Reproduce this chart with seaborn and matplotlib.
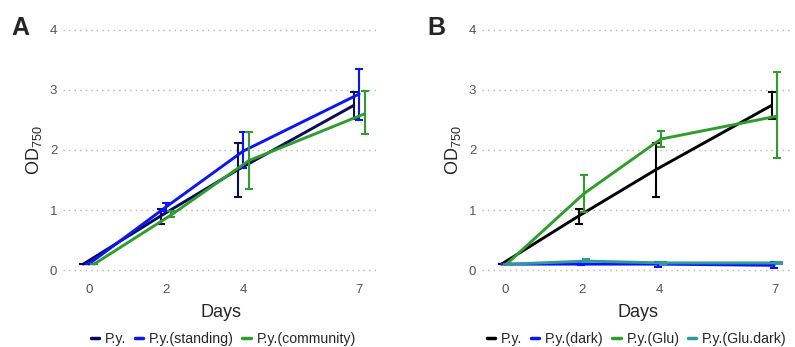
import pandas as pd
import matplotlib.pyplot as plt
import seaborn as sns
import numpy as np
from matplotlib.lines import Line2D

# Datos
days = [0, 2, 4, 7]

# Panel A
a_groups = ['P.y.', 'P.y.(standing)', 'P.y.(community)']
a_colors = ['#0b0b5e', '#0a14ff', '#2e9e2a']
a_mean = {
    'P.y.': [0.10, 0.90, 1.67, 2.74],
    'P.y.(standing)': [0.10, 1.05, 1.98, 2.93],
    'P.y.(community)': [0.10, 0.92, 1.82, 2.60],
}
a_low = {
    'P.y.': [0.10, 0.77, 1.22, 2.51],
    'P.y.(standing)': [0.10, 0.99, 1.70, 2.50],
    'P.y.(community)': [0.10, 0.88, 1.35, 2.27],
}
a_high = {
    'P.y.': [0.10, 1.02, 2.11, 2.97],
    'P.y.(standing)': [0.10, 1.12, 2.29, 3.35],
    'P.y.(community)': [0.10, 0.98, 2.29, 2.98],
}

# Panel B
b_groups = ['P.y.', 'P.y.(dark)', 'P.y.(Glu)', 'P.y.(Glu.dark)']
b_colors = ['#000000', '#0a14ff', '#2e9e2a', '#2e9a9a']
b_mean = {
    'P.y.': [0.10, 0.90, 1.67, 2.74],
    'P.y.(dark)': [0.10, 0.10, 0.10, 0.08],
    'P.y.(Glu)': [0.10, 1.27, 2.18, 2.56],
    'P.y.(Glu.dark)': [0.10, 0.15, 0.12, 0.12],
}
b_low = {
    'P.y.': [0.10, 0.77, 1.22, 2.51],
    'P.y.(dark)': [0.10, 0.08, 0.05, 0.03],
    'P.y.(Glu)': [0.10, 0.97, 2.05, 1.87],
    'P.y.(Glu.dark)': [0.10, 0.13, 0.10, 0.10],
}
b_high = {
    'P.y.': [0.10, 1.01, 2.11, 2.97],
    'P.y.(dark)': [0.10, 0.12, 0.14, 0.13],
    'P.y.(Glu)': [0.10, 1.59, 2.32, 3.29],
    'P.y.(Glu.dark)': [0.10, 0.18, 0.14, 0.14],
}


def make_df(groups, mean, low, high, step):
    rows = []
    n = len(groups)
    for i, g in enumerate(groups):
        off = (i - (n - 1) / 2) * step
        for j, d in enumerate(days):
            rows.append({'x': d + off, 'y': mean[g][j], 'lo': low[g][j],
                         'hi': high[g][j], 'grupo': g})
    return pd.DataFrame(rows)


sns.set_style('white')
plt.rcParams['font.family'] = ['Liberation Sans', 'DejaVu Sans']
plt.rcParams['mathtext.fontset'] = 'custom'
plt.rcParams['mathtext.rm'] = 'Liberation Sans'
plt.rcParams['mathtext.it'] = 'Liberation Sans'

fig = plt.figure(figsize=(7.95, 3.47), dpi=100)
ax_a = fig.add_axes([0.079, 0.199, 0.399, 0.738])
ax_b = fig.add_axes([0.606, 0.199, 0.392, 0.738])


def draw_panel(ax, groups, colors, mean, low, high, step, xlim):
    df = make_df(groups, mean, low, high, step)
    pal = dict(zip(groups, colors))
    for y in [0, 1, 2, 3, 4]:
        ax.axhline(y, color='#b5b5b5', lw=1.0, ls=(0, (1, 3)), zorder=0)
    for g in groups:
        sub = df[df['grupo'] == g]
        sns.lineplot(data=sub, x='x', y='y', color=pal[g], lw=2.1,
                     ax=ax, legend=False, sort=False, zorder=3)
        ax.errorbar(sub['x'], sub['y'],
                    yerr=[sub['y'] - sub['lo'], sub['hi'] - sub['y']],
                    fmt='none', ecolor=pal[g], elinewidth=1.5, capsize=3,
                    capthick=1.5, zorder=3)
    ax.set_xlim(*xlim)
    ax.set_ylim(-0.13, 4.13)
    ax.set_xticks(days)
    ax.set_yticks([0, 1, 2, 3, 4])
    ax.tick_params(axis='both', length=2, width=0.6, color='#888888',
                   labelcolor='#555555', labelsize=9.5, pad=2)
    ax.set_xlabel('Days', fontsize=13, labelpad=6)
    ax.set_ylabel('OD$_{750}$', fontsize=13, labelpad=4)
    sns.despine(ax=ax, left=True, bottom=True)
    handles = [Line2D([0], [0], color=c, lw=2.5) for c in colors]
    return handles


h_a = draw_panel(ax_a, a_groups, a_colors, a_mean, a_low, a_high, 0.14, (-0.67, 7.54))
h_b = draw_panel(ax_b, b_groups, b_colors, b_mean, b_low, b_high, 0.065, (-0.61, 7.47))

fig.legend(h_a, a_groups, loc='center', bbox_to_anchor=(0.281, 0.024), ncol=3,
           frameon=False, fontsize=10.2, handlelength=0.6, handletextpad=0.4,
           columnspacing=0.6, borderpad=0)
fig.legend(h_b, b_groups, loc='center', bbox_to_anchor=(0.801, 0.024), ncol=4,
           frameon=False, fontsize=10.2, handlelength=0.6, handletextpad=0.4,
           columnspacing=0.6, borderpad=0)

fig.text(0.014, 0.9, 'A', fontsize=18, fontweight='bold')
fig.text(0.538, 0.9, 'B', fontsize=18, fontweight='bold')

fig.savefig('out.png', dpi=100)
